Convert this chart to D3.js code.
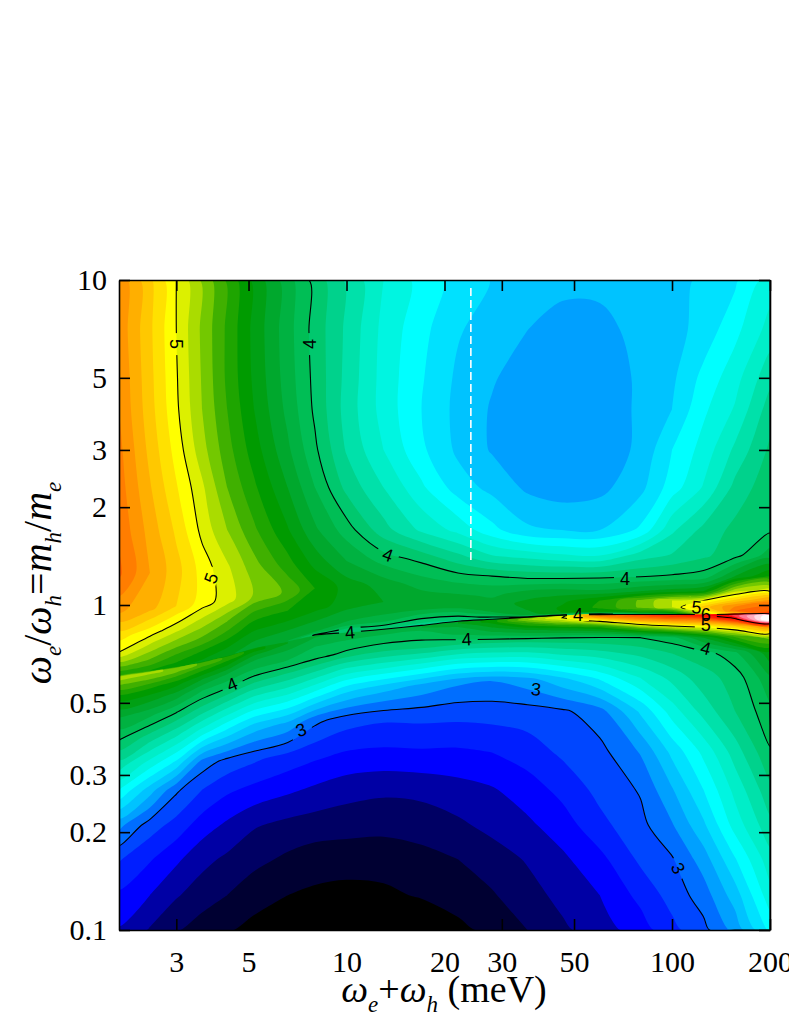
<!DOCTYPE html>
<html>
<head>
<meta charset="utf-8">
<script src="https://cdn.jsdelivr.net/npm/d3@7"></script>
<style>
body { margin: 0; background: #fff; }
text { font-family: "Liberation Serif", serif; fill: #000; }
.contour-label { font-family: "Liberation Sans", sans-serif; font-size: 18px; }
.axis path, .axis line { stroke: #000; stroke-width: 1.6px; }
.axis text { font-family: "Liberation Serif", serif; font-size: 30px; }
</style>
</head>
<body>
<svg id="chart" width="789" height="1021"></svg>
<script>
// grid columns, omega_e + omega_h in meV
var columnsMeV = [2, 2.49, 3, 3.6, 4.3, 5.2, 6.6, 8, 10, 13, 17, 22, 28, 36, 46, 60, 80, 100, 125, 156, 200];
// where the narrow ridge sits in each column, omega_e / omega_h
var ridgeRatio = [0.6, 0.622, 0.64, 0.663, 0.692, 0.732, 0.769, 0.803, 0.82, 0.838, 0.862, 0.887, 0.899, 0.912, 0.925, 0.932, 0.932, 0.932, 0.932, 0.938, 0.938];
// rows: fixed ratios at top, then fractions up to the ridge, fractions below it, fixed ratios at the bottom
var topRows = [10, 7, 5, 4, 3, 2.3, 1.7];
var aboveFractions = [0.3, 0.55, 0.72, 0.83, 0.91, 0.96, 0.99];
var belowFractions = [0.01, 0.03, 0.07, 0.13, 0.22, 0.36, 0.55, 0.78];
var bottomRows = [0.27, 0.21, 0.165, 0.128, 0.1];

// values, one line per column, top row first
var surface = [
  [5.47,5.47,5.49,5.5,5.53,5.55,5.58, 5.62,5.42,5.14,5.0,4.75,4.6,4.5, 4.85, 4.85,4.8,4.7,4.55,4.38,4.2,4.01,3.75, 3.5,3.13,2.91,2.78,2.69],
  [5.22,5.22,5.23,5.24,5.27,5.31,5.36, 5.4,5.33,5.05,4.85,4.7,4.58,4.5, 4.82, 4.82,4.77,4.68,4.52,4.35,4.13,3.86,3.55, 3.25,2.95,2.81,2.7,2.59],
  [5.0,5.0,5.01,5.02,5.06,5.11,5.18, 5.24,5.2,4.93,4.74,4.58,4.5,4.42, 4.78, 4.78,4.72,4.6,4.44,4.26,4.01,3.72,3.37, 3.02,2.86,2.72,2.61,2.51],
  [4.78,4.78,4.79,4.8,4.84,4.92,4.97, 5.06,5.05,4.82,4.66,4.5,4.42,4.38, 4.68, 4.68,4.6,4.48,4.3,4.1,3.87,3.54,3.06, 2.9,2.75,2.63,2.55,2.45],
  [4.58,4.58,4.58,4.6,4.64,4.7,4.8, 4.92,4.95,4.7,4.55,4.42,4.36,4.32, 4.58, 4.58,4.5,4.38,4.2,4.03,3.75,3.39,2.97, 2.82,2.68,2.58,2.5,2.41],
  [4.37,4.37,4.38,4.4,4.45,4.52,4.62, 4.74,4.79,4.55,4.42,4.33,4.27,4.25, 4.45, 4.45,4.35,4.22,4.13,3.94,3.65,3.26,2.92, 2.77,2.61,2.53,2.44,2.37],
  [4.14,4.14,4.15,4.17,4.22,4.3,4.41, 4.54,4.68,4.5,4.38,4.28,4.22,4.2, 4.3, 4.3,4.25,4.17,4.09,3.88,3.59,3.18,2.86, 2.72,2.57,2.48,2.4,2.33],
  [3.96,3.96,3.97,3.98,4.02,4.1,4.22, 4.36,4.5,4.45,4.33,4.25,4.2,3.98, 4.22, 4.2,4.17,4.1,4.05,3.83,3.5,3.03,2.82, 2.68,2.55,2.45,2.38,2.3],
  [3.78,3.78,3.77,3.76,3.79,3.87,4.05, 4.2,4.36,4.35,4.25,4.18,3.98,3.9, 4.15, 4.15,4.12,4.07,3.97,3.71,3.34,2.95,2.78, 2.64,2.54,2.44,2.37,2.28],
  [3.6,3.57,3.56,3.56,3.6,3.7,3.84, 4.06,4.26,4.3,4.22,4.12,3.98,3.92, 4.18, 4.15,4.1,4.03,3.91,3.66,3.25,2.92,2.77, 2.62,2.53,2.44,2.38,2.28],
  [3.46,3.43,3.41,3.4,3.42,3.52,3.68, 3.97,4.15,4.26,4.2,4.03,3.92,3.85, 4.2, 4.2,4.1,4.03,3.92,3.63,3.18,2.93,2.78, 2.63,2.54,2.47,2.41,2.31],
  [3.36,3.31,3.28,3.27,3.28,3.35,3.57, 3.84,4.08,4.22,4.25,4.06,3.95,3.88, 4.3, 4.3,4.2,4.12,3.92,3.6,3.12,2.93,2.78, 2.66,2.58,2.5,2.45,2.37],
  [3.295,3.25,3.21,3.19,3.19,3.27,3.43, 3.72,4.05,4.18,4.25,4.2,4.03,3.9, 4.45, 4.45,4.35,4.2,3.92,3.6,3.1,2.94,2.8, 2.69,2.63,2.55,2.49,2.43],
  [3.255,3.2,3.15,3.14,3.14,3.18,3.32, 3.67,4.0,4.25,4.33,4.3,4.25,3.95, 4.75, 4.8,4.6,4.3,3.94,3.63,3.16,2.95,2.85, 2.75,2.68,2.61,2.56,2.5],
  [3.225,3.165,3.125,3.12,3.12,3.145,3.3, 3.62,3.98,4.25,4.38,4.42,4.4,3.95, 4.95, 5.0,4.85,4.4,3.97,3.71,3.28,2.98,2.92, 2.83,2.75,2.68,2.63,2.58],
  [3.225,3.17,3.13,3.13,3.14,3.17,3.3, 3.6,3.98,4.22,4.5,4.52,4.45,3.95, 5.6, 5.5,5.1,4.5,3.99,3.76,3.42,3.06,2.97, 2.93,2.87,2.77,2.7,2.65],
  [3.25,3.23,3.22,3.22,3.22,3.27,3.42, 3.75,4.0,4.3,4.72,4.72,4.5,4.1, 5.8, 5.65,5.4,4.75,4.0,3.83,3.6,3.32,3.11, 3.01,2.97,2.92,2.83,2.75],
  [3.27,3.26,3.28,3.3,3.4,3.45,3.68, 3.81,4.02,4.35,4.9,4.9,4.55,4.3, 5.9, 5.8,5.5,4.9,4.06,3.9,3.73,3.55,3.33, 3.19,3.09,2.99,2.94,2.87],
  [3.315,3.34,3.43,3.48,3.54,3.61,3.83, 3.88,4.05,4.4,5.0,5.25,5.0,4.9, 6.0, 5.9,5.55,5.0,4.3,3.95,3.86,3.74,3.53, 3.4,3.28,3.15,3.05,2.97],
  [3.38,3.47,3.56,3.61,3.72,3.83,3.93, 3.96,4.3,4.85,5.2,5.5,5.6,5.3, 6.05, 6.15,5.95,5.2,4.6,4.08,3.94,3.9,3.75, 3.63,3.54,3.39,3.25,3.13],
  [3.55,3.64,3.77,3.85,3.92,3.97,3.98, 4.15,4.5,4.95,5.4,5.65,5.7,5.85, 6.05, 6.6,6.7,5.5,4.75,4.37,4.18,4.07,3.99, 3.87,3.77,3.66,3.56,3.42]
];

// lower edge of each filled band, and its colour; below the first level is black
var bandLevels = [2.4,2.5,2.6,2.7,2.8,2.9,3.0,3.1,3.2,3.3,3.4,3.5,3.6,3.7,3.8,3.9,4.0,4.1,4.2,4.3,4.4,4.5,4.6,4.7,4.8,4.9,5.0,5.1,5.2,5.3,5.4,5.5,5.6,5.7,5.8,5.9,6.0,6.1,6.2,6.3,6.4,6.5];
var bandColors = ["#000032","#000064","#0000a5","#0000ff","#001eff","#0046ff","#006eff","#00a0ff","#00c3ff","#00e1ff","#00ffff","#00f5e1","#00eec8","#00e1aa","#00d28c","#00c86e","#00be55","#00b241","#00a82d","#00a014","#009b00","#1ea500","#40b000","#73c800","#aadc00","#dcf000","#ffff00","#ffe100","#ffc800","#ffaf00","#ff9600","#ff7d00","#ff6400","#ff4b00","#ff3200","#ff1900","#ff0000","#ff3c50","#ff7896","#ffaabe","#ffdce6","#ffffff"];
var lineLevels = [3, 4, 5, 6];

var xTicks = [3, 5, 10, 20, 30, 50, 100, 200];
var yTicks = [0.1, 0.2, 0.3, 0.5, 1, 2, 3, 5, 10];

// text on the contour lines: value, meV, ratio, rotation
var lineLabels = [
  ["5", 3, 6.35, 90], ["4", 7.67, 6.35, -90], ["5", 3.83, 1.21, -70], ["4", 13.4, 1.43, 20],
  ["4", 4.45, 0.571, -22], ["3", 7.25, 0.413, -20], ["4", 10.25, 0.826, -5], ["4", 23.4, 0.786, -3],
  ["3", 38.2, 0.552, 5], ["4", 71.7, 1.21, 0], ["4", 51.4, 0.938, 0], ["4", 127, 0.737, 15],
  ["3", 104.5, 0.155, 62], ["5", 119, 0.986, 5], ["6", 127, 0.938, 0], ["5", 127, 0.868, 0]
];
var dashMeV = 24.1;
var dashRatio = [9.45, 1.356];

var margin = {top: 280, right: 19, bottom: 91, left: 119},
    width = 789 - margin.left - margin.right,
    height = 1021 - margin.top - margin.bottom;

var svg = d3.select("#chart");
var g = svg.append("g").attr("transform", "translate(" + margin.left + "," + margin.top + ")");

var x = d3.scaleLog().domain([2, 200]).range([0, width]);
var y = d3.scaleLog().domain([0.1, 10]).range([height, 0]);

var nCols = columnsMeV.length,
    nRows = surface[0].length;

// d3.contours wants one flat array, row after row
var flat = [];
for (var j = 0; j < nRows; j++) {
  for (var i = 0; i < nCols; i++) {
    flat.push(surface[i][j]);
  }
}

var colToPx = d3.scaleLinear().domain(d3.range(nCols)).range(columnsMeV.map(function(d) { return x(d); }));
var colToRidge = d3.scaleLinear().domain(d3.range(nCols)).range(ridgeRatio.map(function(d) { return y(d); }));
var upperEdge = y(topRows[topRows.length - 1]),
    lowerEdge = y(bottomRows[0]);

function rowToPx(col, row) {
  var ridge = colToRidge(col);
  var px = topRows.map(function(d) { return y(d); });
  aboveFractions.forEach(function(t) { px.push(upperEdge + t * (ridge - upperEdge)); });
  px.push(ridge);
  belowFractions.forEach(function(t) { px.push(ridge + t * (lowerEdge - ridge)); });
  bottomRows.forEach(function(d) { px.push(y(d)); });
  return d3.scaleLinear().domain(d3.range(nRows)).range(px)(row);
}

function gridToPx(p) {
  // grid values sit at cell centres in d3.contours
  var c = Math.max(0, Math.min(nCols - 1, p[0] - 0.5)),
      r = Math.max(0, Math.min(nRows - 1, p[1] - 0.5));
  return [colToPx(c), rowToPx(c, r)];
}

var ringLine = d3.line().curve(d3.curveCatmullRomClosed.alpha(0.5));

function contourPath(shape) {
  var out = "";
  shape.coordinates.forEach(function(polygon) {
    polygon.forEach(function(ring) {
      out += ringLine(ring.slice(0, -1).map(gridToPx));
    });
  });
  return out;
}

var defs = svg.append("defs");
defs.append("clipPath").attr("id", "plot-clip")
    .append("rect").attr("width", width).attr("height", height);

var labelMask = defs.append("mask").attr("id", "label-gaps")
    .attr("maskUnits", "userSpaceOnUse")
    .attr("x", 0).attr("y", 0).attr("width", width).attr("height", height);
labelMask.append("rect").attr("width", width).attr("height", height).attr("fill", "#fff");
labelMask.selectAll("rect.gap")
    .data(lineLabels)
  .enter().append("rect")
    .attr("class", "gap")
    .attr("x", -11).attr("y", -7).attr("width", 22).attr("height", 14)
    .attr("fill", "#000")
    .attr("transform", function(d) {
      return "translate(" + x(d[1]) + "," + y(d[2]) + ") rotate(" + d[3] + ")";
    });

var plot = g.append("g").attr("clip-path", "url(#plot-clip)");
plot.append("rect").attr("width", width).attr("height", height).attr("fill", "#000");

var contours = d3.contours().size([nCols, nRows]);

plot.selectAll("path.band")
    .data(contours.thresholds(bandLevels)(flat))
  .enter().append("path")
    .attr("class", "band")
    .attr("fill-rule", "evenodd")
    .attr("d", contourPath)
    .attr("fill", function(d, i) { return bandColors[i]; });

plot.append("g").attr("mask", "url(#label-gaps)")
    .selectAll("path")
    .data(contours.thresholds(lineLevels)(flat))
  .enter().append("path")
    .attr("fill", "none")
    .attr("stroke", "#000")
    .attr("stroke-width", 1.1)
    .attr("d", contourPath);

plot.append("line")
    .attr("x1", x(dashMeV)).attr("x2", x(dashMeV))
    .attr("y1", y(dashRatio[0])).attr("y2", y(dashRatio[1]))
    .attr("stroke", "#fff")
    .attr("stroke-width", 1.6)
    .attr("stroke-dasharray", "8,4");

plot.selectAll("text")
    .data(lineLabels)
  .enter().append("text")
    .attr("class", "contour-label")
    .attr("text-anchor", "middle")
    .attr("dy", "0.36em")
    .attr("transform", function(d) {
      return "translate(" + x(d[1]) + "," + y(d[2]) + ") rotate(" + d[3] + ")";
    })
    .text(function(d) { return d[0]; });

// axes, ticks point inwards on all four sides
g.append("g").attr("class", "axis")
    .attr("transform", "translate(0," + height + ")")
    .call(d3.axisBottom(x).tickValues(xTicks).tickFormat(d3.format("d")).tickSizeInner(-11).tickSizeOuter(0).tickPadding(21));
g.append("g").attr("class", "axis")
    .call(d3.axisTop(x).tickValues(xTicks).tickFormat("").tickSizeInner(-11).tickSizeOuter(0));
g.append("g").attr("class", "axis")
    .call(d3.axisLeft(y).tickValues(yTicks).tickFormat(function(d) { return d; }).tickSizeInner(-11).tickSizeOuter(0).tickPadding(12));
g.append("g").attr("class", "axis")
    .attr("transform", "translate(" + width + ",0)")
    .call(d3.axisRight(y).tickValues(yTicks).tickFormat("").tickSizeInner(-11).tickSizeOuter(0));

var sub = 'font-size="23" font-style="italic"';
svg.append("text")
    .attr("x", 444).attr("y", 1002)
    .attr("text-anchor", "middle")
    .attr("font-size", 38)
    .html('<tspan font-style="italic">ω</tspan><tspan ' + sub + ' dy="10">e</tspan><tspan dy="-10">+</tspan><tspan font-style="italic">ω</tspan><tspan ' + sub + ' dy="10">h</tspan><tspan dy="-10"> (meV)</tspan>');

svg.append("text")
    .attr("transform", "translate(51,583) rotate(-90)")
    .attr("text-anchor", "middle")
    .attr("font-size", 40)
    .html('<tspan font-style="italic">ω</tspan><tspan ' + sub + ' dy="10">e</tspan><tspan dy="-10">/</tspan><tspan font-style="italic">ω</tspan><tspan ' + sub + ' dy="10">h</tspan><tspan dy="-10">=</tspan><tspan font-style="italic">m</tspan><tspan ' + sub + ' dy="10">h</tspan><tspan dy="-10">/</tspan><tspan font-style="italic">m</tspan><tspan ' + sub + ' dy="10">e</tspan>');
</script>
</body>
</html>
